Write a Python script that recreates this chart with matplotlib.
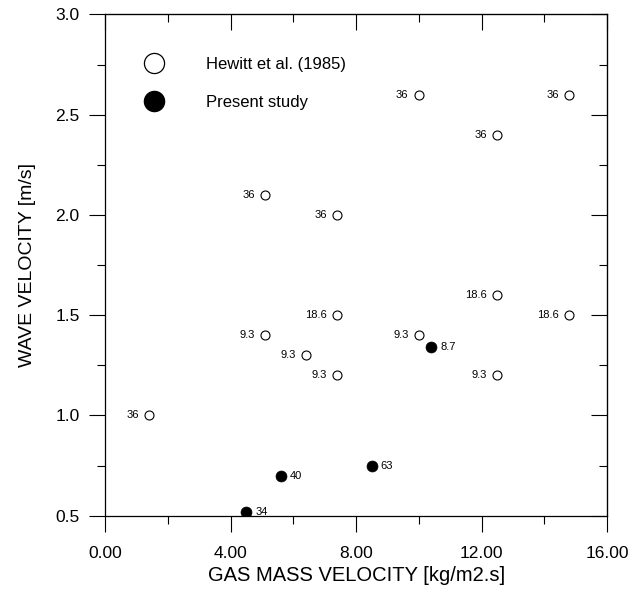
import numpy as np
import matplotlib
matplotlib.use('Agg')
import matplotlib.pyplot as plt
from matplotlib.lines import Line2D
from matplotlib.ticker import MultipleLocator, FormatStrFormatter

plt.rcParams['font.family'] = ['Liberation Sans', 'DejaVu Sans']

# Hewitt et al. (1985) - open circles
hew_x = [1.4, 5.1, 6.4, 7.4, 7.4, 10.0, 12.5, 12.5, 14.8, 5.1, 7.4, 10.0, 12.5, 14.8]
hew_y = [1.0, 1.4, 1.3, 1.2, 1.5, 1.4, 1.2, 1.6, 1.5, 2.1, 2.0, 2.6, 2.4, 2.6]
hew_lab = ['36', '9.3', '9.3', '9.3', '18.6', '9.3', '9.3', '18.6', '18.6',
           '36', '36', '36', '36', '36']

# present study - filled circles
pre_x = [4.5, 5.6, 8.5, 10.4]
pre_y = [0.52, 0.70, 0.75, 1.34]
pre_lab = ['34', '40', '63', '8.7']

fig = plt.figure(figsize=(6.32, 5.89), dpi=100, facecolor='white')
ax = fig.add_axes([0.1666, 0.1245, 0.7938, 0.8509])

ax.scatter(hew_x, hew_y, s=42, facecolors='white', edgecolors='black', linewidths=0.8, zorder=5)
ax.scatter(pre_x, pre_y, s=62, facecolors='black', edgecolors='black', linewidths=0.5, zorder=5)

for x, y, t in zip(hew_x, hew_y, hew_lab):
    ax.annotate(t, (x, y), xytext=(-7.5, 0), textcoords='offset points',
                ha='right', va='center', fontsize=8)
for x, y, t in zip(pre_x, pre_y, pre_lab):
    ax.annotate(t, (x, y), xytext=(6.5, 0), textcoords='offset points',
                ha='left', va='center', fontsize=8)

ax.set_xlim(0, 16)
ax.set_ylim(0.5, 3.0)
ax.xaxis.set_major_locator(MultipleLocator(4))
ax.xaxis.set_minor_locator(MultipleLocator(2))
ax.yaxis.set_major_locator(MultipleLocator(0.5))
ax.yaxis.set_minor_locator(MultipleLocator(0.25))
ax.xaxis.set_major_formatter(FormatStrFormatter('%.2f'))
ax.yaxis.set_major_formatter(FormatStrFormatter('%.1f'))

for sp in ax.spines.values():
    sp.set_linewidth(0.9)
ax.tick_params(which='major', direction='out', length=11.5, width=0.8)
ax.tick_params(which='minor', direction='out', length=6, width=0.8)
ax.tick_params(axis='x', labelsize=12.5, pad=10)
ax.tick_params(axis='y', labelsize=12.5, pad=7)

# top / right: inward ticks, no labels
top = ax.secondary_xaxis('top')
top.xaxis.set_major_locator(MultipleLocator(4))
top.xaxis.set_minor_locator(MultipleLocator(2))
top.tick_params(which='major', direction='in', length=11.5, width=0.8, labeltop=False)
top.tick_params(which='minor', direction='in', length=6, width=0.8)
right = ax.secondary_yaxis('right')
right.yaxis.set_major_locator(MultipleLocator(0.5))
right.yaxis.set_minor_locator(MultipleLocator(0.25))
right.tick_params(which='major', direction='in', length=11.5, width=0.8, labelright=False)
right.tick_params(which='minor', direction='in', length=6, width=0.8)

ax.set_xlabel('GAS MASS VELOCITY [kg/m2.s]', fontsize=14.5, labelpad=4)
ax.set_ylabel('WAVE VELOCITY [m/s]', fontsize=14, labelpad=14)

handles = [
    Line2D([], [], linestyle='none', marker='o', markersize=14.5,
           markerfacecolor='white', markeredgecolor='black', markeredgewidth=0.9),
    Line2D([], [], linestyle='none', marker='o', markersize=14.5,
           markerfacecolor='black', markeredgecolor='black'),
]
ax.legend(handles, ['Hewitt et al. (1985)', 'Present study'], loc='upper left',
          bbox_to_anchor=(0.064, 0.916), borderaxespad=0, borderpad=0,
          frameon=False, fontsize=12, handlelength=2.0, handletextpad=2.1,
          labelspacing=1.42)

fig.savefig('out.png', dpi=100)
